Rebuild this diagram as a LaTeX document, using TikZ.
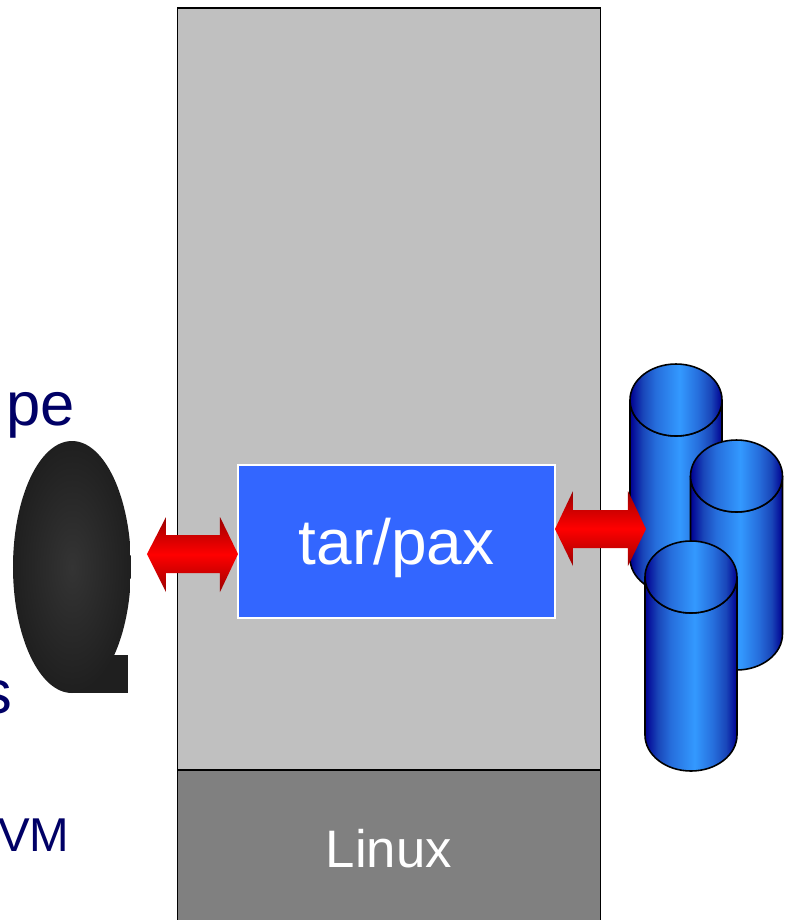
\documentclass[tikz,border=0pt]{standalone}
\usepackage{fontspec}
\setmainfont{Liberation Sans}
\usepackage{tikz}

\definecolor{navytext}{RGB}{0,0,102}
\definecolor{greybox}{RGB}{192,192,192}
\definecolor{linuxbox}{RGB}{128,128,128}
\definecolor{tarbox}{RGB}{51,102,255}
\definecolor{drumdark}{RGB}{0,0,145}
\definecolor{drummid}{RGB}{25,70,185}
\definecolor{drumfair}{RGB}{38,110,220}
\definecolor{drumlight}{RGB}{51,153,255}
\definecolor{tapedark}{RGB}{31,31,31}
\definecolor{tapelight}{RGB}{52,52,52}
\pgfdeclarehorizontalshading{drumshade}{100bp}{color(0bp)=(drumdark);color(25bp)=(drumdark);color(32bp)=(drummid);color(39bp)=(drumfair);color(52bp)=(drumlight);color(62bp)=(drumfair);color(69bp)=(drummid);color(75bp)=(drumdark);color(100bp)=(drumdark)}
\pgfdeclareverticalshading{arrowshade}{100bp}{color(0bp)=(red!60!black);color(25bp)=(red!60!black);color(37bp)=(red!80!black);color(50bp)=(red);color(63bp)=(red!80!black);color(75bp)=(red!60!black);color(100bp)=(red!60!black)}
\tikzset{
	blockarrow/.style={shading=arrowshade},
	drum/.style={shading=drumshade,draw=black,line width=0.45pt},
	bluetext/.style={text=navytext,inner sep=0pt},
}

\begin{document}
\begin{tikzpicture}[x=0.01cm,y=-0.01cm]
	\useasboundingbox (0,0) rectangle (787,920);
	\clip (0,0) rectangle (787,920);
	% stack
	\node[shape=rectangle,draw=black,line width=0.45pt,fill=greybox,minimum width=4.23cm,minimum height=7.62cm](stack) at (389,389){};
	\node[shape=rectangle,draw=black,line width=0.45pt,fill=linuxbox,minimum width=4.23cm,minimum height=1.58cm,text=white,font=\fontsize{15}{18}\selectfont](linux) at (389,849){Linux};
	\node[shape=rectangle,draw=white,line width=0.45pt,fill=tarbox,minimum width=3.17cm,minimum height=1.53cm,text=white,text depth=0pt,font=\fontsize{18.2}{22}\selectfont](tar) at (396.5,541.5){tar/pax};
	% tape
	\node[bluetext,anchor=base west,font=\fontsize{17.5}{21}\selectfont](tape) at (6,425){pe};
	\node[bluetext,anchor=base east,font=\fontsize{17.5}{21}\selectfont](disks) at (13,713){s};
	\node[bluetext,anchor=base east,font=\fontsize{13.5}{16}\selectfont](vm) at (70,851){VM};
	\fill[tapedark] (72,693) rectangle (128,655);
	\shade[inner color=tapelight,outer color=tapedark] (72,567) ellipse [x radius=59,y radius=126];
	\coordinate (tapeport) at (238,554);
	\coordinate (diskport) at (555,529);
	% left arrow
	\shade[blockarrow] (tapeport) -- ++(-18,-37) -- ++(0,18) -- ++(-54,0) -- ++(0,-18) -- ++(-19,37) -- ++(19,38) -- ++(0,-19) -- ++(54,0) -- ++(0,19) -- cycle;
	% disks
	\foreach \cx/\cy/\name in {676/400/back,736.5/476/mid}{
		\shade[drum] (\cx-46,\cy) -- (\cx-46,\cy+158) arc[start angle=180,end angle=0,x radius=46,y radius=36] -- (\cx+46,\cy) arc[start angle=0,end angle=180,x radius=46,y radius=36] -- cycle;
		\shade[drum] (\cx,\cy) ellipse [x radius=46,y radius=36];
	}
	% right arrow
	\shade[blockarrow] (diskport) -- ++(18,-38) -- ++(0,19) -- ++(55,0) -- ++(0,-19) -- ++(18,38) -- ++(-18,37) -- ++(0,-18) -- ++(-55,0) -- ++(0,18) -- cycle;
	\foreach \cx/\cy in {691/577}{
		\shade[drum] (\cx-46,\cy) -- (\cx-46,\cy+158) arc[start angle=180,end angle=0,x radius=46,y radius=36] -- (\cx+46,\cy) arc[start angle=0,end angle=180,x radius=46,y radius=36] -- cycle;
		\shade[drum] (\cx,\cy) ellipse [x radius=46,y radius=36];
	}
\end{tikzpicture}
\end{document}
